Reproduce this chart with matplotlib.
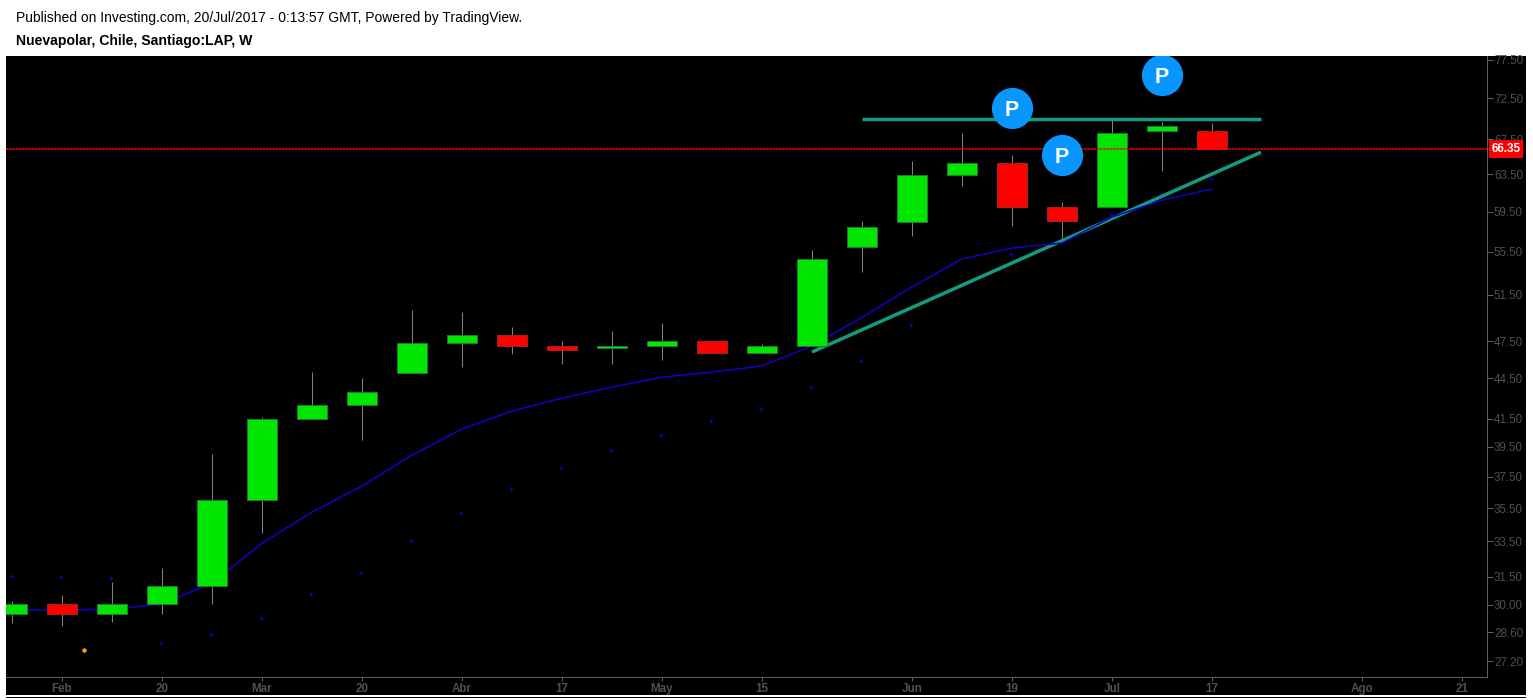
import matplotlib
matplotlib.use('Agg')
import matplotlib.pyplot as plt
from matplotlib.patches import Rectangle

# weekly candles, one slot per week
opens = [29.52, 30.04, 29.52, 30.04, 31.0, 36.0, 41.5, 42.5, 44.9, 47.3, 48.0, 47.1, 46.95, 47.05, 47.5, 46.5, 47.1, 55.95, 58.4, 63.4, 64.8, 60.0, 60.0, 68.5, 68.5]
closes = [30.04, 29.52, 30.04, 31.0, 36.0, 41.5, 42.5, 43.5, 47.3, 48.0, 47.1, 46.8, 47.05, 47.5, 46.5, 47.1, 54.8, 57.9, 63.4, 64.8, 60.0, 58.5, 68.2, 69.1, 66.35]
highs = [30.2, 30.5, 31.2, 32.0, 39.0, 41.6, 45.0, 44.5, 50.1, 50.0, 48.7, 47.5, 48.3, 49.0, 47.5, 47.25, 55.7, 58.5, 65.0, 68.2, 65.7, 60.5, 69.8, 69.6, 69.4]
lows = [29.06, 28.9, 29.1, 29.52, 30.04, 34.0, 41.5, 40.0, 44.9, 45.4, 46.4, 45.6, 45.6, 45.95, 46.5, 46.5, 47.1, 53.6, 57.0, 62.2, 58.0, 56.4, 60.0, 63.9, 66.35]

# moving average and the small cross markers under it
ma_line = [29.73, 29.73, 29.78, 30.04, 31.16, 33.4, 35.26, 36.9, 38.94, 40.75, 42.05, 43.0, 43.84, 44.6, 45.0, 45.48, 47.1, 49.5, 52.2, 54.8, 55.85, 56.34, 58.95, 60.7, 61.9]
crosses = [31.54, 31.49, 31.43, 28.07, 28.51, 29.32, 30.57, 31.71, 33.52, 35.2, 36.7, 38.07, 39.28, 40.3, 41.3, 42.2, 43.84, 45.87, 48.84, 52.37, 55.27, 56.5, 59.16, 61.36, 63.1]

# drawn trend lines: (week, price) ends
flat_x = [17.0, 24.98]
flat_y = [69.87, 69.87]
rise_x = [16.0, 24.98]
rise_y = [46.6, 66.0]

# pivot badges
pivot_x = [20, 21, 23]
pivot_y = [71.28, 65.67, 75.5]

last_price = 66.35
y_ticks = [27.2, 28.6, 30.0, 31.5, 33.5, 35.5, 37.5, 39.5, 41.5, 44.5, 47.5, 51.5, 55.5, 59.5, 63.5, 67.5, 72.5, 77.5]
x_ticks = [1, 3, 5, 7, 9, 11, 13, 15, 18, 20, 22, 24, 27, 29]
x_labels = ['Feb', '20', 'Mar', '20', 'Abr', '17', 'May', '15', 'Jun', '19', 'Jul', '17', 'Ago', '21']

W, H = 1533, 700
plt.rcParams['font.family'] = ['Liberation Sans', 'DejaVu Sans']
fig = plt.figure(figsize=(W / 100, H / 100), dpi=100, facecolor='white')

# black panel behind the whole chart, and the thin rule under it
fig.add_artist(Rectangle((6 / W, 1 - 695 / H), 1520 / W, 639 / H, transform=fig.transFigure,
                         facecolor='black', edgecolor='none', zorder=-1))
fig.add_artist(Rectangle((6 / W, 1 - 698 / H), 1520 / W, 1 / H, transform=fig.transFigure,
                         facecolor='black', edgecolor='none', zorder=-1))

ax = fig.add_axes([6 / W, 1 - 676.5 / H, 1481 / W, 620.5 / H], facecolor='black')
ax.set_yscale('log')
ax.set_xlim((6 - 12) / 50, (1487 - 12) / 50)
ax.set_ylim(26.48, 78.04)
ax.minorticks_off()

for i in range(len(opens)):
    up = closes[i] >= opens[i]
    color = '#00e600' if up else '#ff0000'
    edge = '#1f7a32' if up else '#a82020'
    ax.plot([i, i], [lows[i], highs[i]], color='#808080', lw=0.75, zorder=2, solid_capstyle='butt')
    bottom = min(opens[i], closes[i])
    ax.add_patch(Rectangle((i - 0.3, bottom), 0.6, abs(closes[i] - opens[i]),
                           facecolor=color, edgecolor=edge, lw=0.7, zorder=3))

ax.plot(range(len(ma_line)), ma_line, color='#1400c8', lw=1.1, zorder=2.5)
ax.plot([i - 0.02 for i in range(len(crosses))], crosses, ls='none', marker='+', ms=3.5, mew=0.8,
        color='#1400c8', zorder=2)
ax.plot([1.44], [27.73], ls='none', marker='o', ms=2.2, color='#f5a21b', zorder=2)

ax.plot(rise_x, rise_y, color='#159b80', lw=2.5, zorder=2.2, solid_capstyle='butt')
ax.plot(flat_x, flat_y, color='#159b80', lw=2.5, zorder=2.2, solid_capstyle='butt')

# last price line, dashes given in line widths
ax.axhline(last_price, color='#ff0000', lw=1.1, ls=(0, (1.6, 0.5)), zorder=4)

ax.scatter(pivot_x, pivot_y, s=880, color='#0796ff', linewidths=0, zorder=5)
for x, y in zip(pivot_x, pivot_y):
    ax.text(x, y, 'P', color='white', fontsize=15.5, fontweight='bold', ha='center', va='center_baseline', zorder=6)

for side in ['top', 'left']:
    ax.spines[side].set_visible(False)
for side in ['right', 'bottom']:
    ax.spines[side].set_color('#606060')
    ax.spines[side].set_linewidth(0.75)

ax.yaxis.tick_right()
ax.set_yticks(y_ticks)
ax.set_yticklabels(['%.2f' % v for v in y_ticks])
ax.set_xticks(x_ticks)
ax.set_xticklabels(x_labels)
ax.tick_params(axis='y', colors='#505050', labelsize=8.4, length=4, width=0.75, pad=1, color='#606060')
ax.tick_params(axis='x', colors='#505050', labelsize=8.4, length=3, width=0.75, pad=2, color='#606060')
for lab in ax.get_xticklabels():
    lab.set_fontweight('bold')

# price tag on the axis
ax.annotate('%.2f' % last_price, xy=(1, last_price), xycoords=('axes fraction', 'data'),
            xytext=(19, 0), textcoords='offset pixels', ha='center', va='center',
            color='white', fontsize=8.5, fontweight='bold', zorder=8, annotation_clip=False,
            bbox=dict(boxstyle='square,pad=0.24', facecolor='#ff0000', edgecolor='none'))

fig.text(16 / W, 1 - 18 / H, 'Published on Investing.com, 20/Jul/2017 - 0:13:57 GMT, Powered by TradingView.',
         fontsize=9.97, color='black', va='center', ha='left')
fig.text(16 / W, 1 - 41 / H, 'Nuevapolar, Chile, Santiago:LAP, W',
         fontsize=10.05, fontweight='bold', color='black', va='center', ha='left')

fig.savefig('out.png', dpi=100)
